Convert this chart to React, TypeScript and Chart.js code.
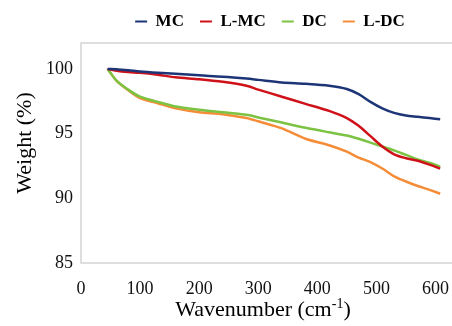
import React, { useEffect, useRef } from "react";
import { Chart, registerables } from "chart.js";

Chart.register(...registerables);

// Wavenumber (x) positions of sampled points
const wavenumber = [45, 60, 80, 100, 130, 160, 200, 240, 280, 300, 340, 380, 420, 450, 470, 490, 510, 530, 550, 570, 590, 608];

// Weight (%) per series
const mcValues = [100.0, 99.98, 99.9, 99.8, 99.7, 99.62, 99.5, 99.4, 99.25, 99.15, 98.95, 98.85, 98.7, 98.45, 98.05, 97.45, 96.95, 96.6, 96.4, 96.3, 96.2, 96.1];
const lmcValues = [100.0, 99.85, 99.75, 99.7, 99.55, 99.35, 99.2, 99.0, 98.7, 98.4, 97.85, 97.3, 96.75, 96.2, 95.6, 94.8, 94.0, 93.4, 93.1, 92.9, 92.6, 92.3];
const dcValues = [100.0, 99.1, 98.4, 97.85, 97.45, 97.1, 96.85, 96.65, 96.45, 96.25, 95.85, 95.45, 95.1, 94.85, 94.6, 94.3, 94.0, 93.7, 93.35, 93.0, 92.75, 92.45];
const ldcValues = [100.0, 99.1, 98.35, 97.75, 97.35, 96.95, 96.65, 96.5, 96.2, 95.95, 95.4, 94.6, 94.1, 93.6, 93.15, 92.8, 92.3, 91.7, 91.3, 90.95, 90.65, 90.35];

const seriesNames = ["MC", "L-MC", "DC", "L-DC"];
const seriesColors = ["#1d3577", "#cf1219", "#7cc243", "#f58d38"];

const xMin = 0;
const xMax = 628;
const xStep = 100;
const yMin = 85;
const yMax = 102;
const yStep = 5;

const xTitleMain = "Wavenumber (cm";
const xTitleSup = "-1";
const xTitleEnd = ")";
const yTitle = "Weight (%)";

const FONT = "'Liberation Serif', 'Times New Roman', serif";

export default function App() {
  const ref = useRef<HTMLCanvasElement | null>(null);

  useEffect(() => {
    document.body.style.margin = "0";
    const canvas = ref.current;
    if (!canvas) return;

    const allValues = [mcValues, lmcValues, dcValues, ldcValues];
    const datasets = seriesNames.map((name, i) => ({
      label: name,
      data: wavenumber.map((x, j) => ({ x, y: allValues[i][j] })),
      borderColor: seriesColors[i],
      backgroundColor: seriesColors[i],
      borderWidth: 2.5,
      pointRadius: 0,
      tension: 0.3,
      fill: false,
    }));

    const framePlugin = {
      id: "frame",
      afterLayout(chart: any) {
        const l = chart.legend;
        const ca = chart.chartArea;
        if (l && ca) {
          const shift = 270 - (l.left + l.right) / 2;
          l.left += shift;
          l.right += shift;
          l.top -= 3;
          l.bottom -= 3;
        }
      },
      beforeDatasetsDraw(chart: any) {
        const { ctx, chartArea: a } = chart;
        ctx.save();
        ctx.strokeStyle = "#d4d4d4";
        ctx.lineWidth = 1.5;
        ctx.beginPath();
        ctx.moveTo(a.right + 2, a.top);
        ctx.lineTo(a.left, a.top);
        ctx.lineTo(a.left, a.bottom);
        ctx.lineTo(a.right + 2, a.bottom);
        ctx.stroke();
        ctx.restore();
      },
      afterDraw(chart: any) {
        const { ctx } = chart;
        ctx.save();
        ctx.fillStyle = "#000";
        ctx.textBaseline = "alphabetic";
        const mainFont = `22px ${FONT}`;
        const supFont = `14px ${FONT}`;
        ctx.font = mainFont;
        const w1 = ctx.measureText(xTitleMain).width;
        const w3 = ctx.measureText(xTitleEnd).width;
        ctx.font = supFont;
        const w2 = ctx.measureText(xTitleSup).width;
        const total = w1 + w2 + w3;
        let x = 263 - total / 2;
        const y = 316;
        ctx.textAlign = "left";
        ctx.font = mainFont;
        ctx.fillText(xTitleMain, x, y);
        x += w1;
        ctx.font = supFont;
        ctx.fillText(xTitleSup, x, y - 8);
        x += w2;
        ctx.font = mainFont;
        ctx.fillText(xTitleEnd, x, y);

        // y-axis title
        ctx.translate(25, 143);
        ctx.rotate(-Math.PI / 2);
        ctx.textAlign = "center";
        ctx.textBaseline = "middle";
        ctx.font = mainFont;
        ctx.fillText(yTitle, 0, 0);
        ctx.restore();
      },
    };

    const chart = new Chart(canvas, {
      type: "line",
      data: { datasets },
      options: {
        animation: false,
        responsive: false,
        maintainAspectRatio: false,
        layout: { padding: { top: 0, left: 0, right: 0, bottom: 0 } },
        plugins: {
          legend: {
            display: true,
            position: "top",
            labels: {
              boxWidth: 12,
              boxHeight: 2,
              padding: 16,
              color: "#000",
              font: { family: FONT, size: 17, weight: "bold" },
              generateLabels: (c: any) => {
                const items = Chart.defaults.plugins.legend.labels.generateLabels(c);
                return items.map((it: any) => ({ ...it, lineWidth: 0 }));
              },
            },
          },
          tooltip: { enabled: false },
        },
        scales: {
          x: {
            type: "linear",
            min: xMin,
            max: xMax,
            grid: { display: false, drawTicks: false },
            border: { display: false },
            ticks: {
              stepSize: xStep,
              includeBounds: false,
              maxRotation: 0,
              padding: 15,
              color: "#111",
              font: { family: FONT, size: 18 },
            },
            afterFit: (s: any) => {
              s.height = 63;
              s.paddingLeft = 0;
              s.paddingRight = 0;
            },
          },
          y: {
            type: "linear",
            min: yMin,
            max: yMax,
            grid: { display: false, drawTicks: false },
            border: { display: false },
            ticks: {
              stepSize: yStep,
              includeBounds: false,
              padding: 8,
              color: "#111",
              font: { family: FONT, size: 18 },
            },
            title: { display: false },
            afterFit: (s: any) => {
              s.width = 81;
              s.paddingTop = 0;
              s.paddingBottom = 0;
            },
          },
        },
      },
      plugins: [framePlugin],
    } as any);

    return () => chart.destroy();
  }, []);

  return (
    <div style={{ width: 452, height: 326 }}>
      <canvas ref={ref} width={452} height={326} style={{ display: "block" }} />
    </div>
  );
}
